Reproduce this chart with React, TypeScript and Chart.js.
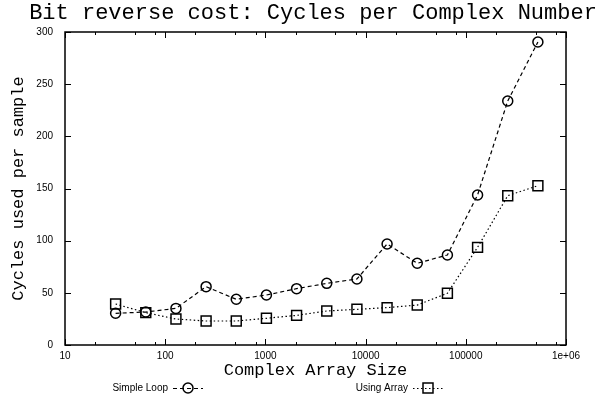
import { useEffect, useRef } from 'react';
import { Chart, registerables } from 'chart.js';

Chart.register(...registerables);

const arraySizes = [32, 64, 128, 256, 512, 1024, 2048, 4096, 8192, 16384, 32768, 65536, 131072, 262144, 524288];
const simpleLoop = [30.4, 31.6, 35.1, 55.9, 43.8, 47.9, 54.0, 59.1, 63.3, 96.8, 78.3, 86.3, 143.8, 233.9, 290.4];
const usingArray = [39.3, 31.0, 24.9, 23.0, 23.0, 25.6, 28.4, 32.6, 34.2, 35.8, 38.3, 49.6, 93.6, 143.1, 152.7];
const seriesNames = ['Simple Loop', 'Using Array'];
const xMajorTicks = [10, 100, 1000, 10000, 100000, 1000000];
const xMinorFactors = [2, 5, 8];
const yTicks = [0, 50, 100, 150, 200, 250, 300];
const titleText = 'Bit reverse cost: Cycles per Complex Number';
const xTitleText = 'Complex Array Size';
const yTitleText = 'Cycles used per sample';

const MONO = '"Liberation Mono", "DejaVu Sans Mono", monospace';
const SANS = '"Liberation Sans", Arial, sans-serif';

const dashSimple = [4, 3];
const dashArray = [1.5, 2.5];

function drawMarker(ctx: CanvasRenderingContext2D, kind: string, x: number, y: number) {
  ctx.save();
  ctx.setLineDash([]);
  ctx.lineWidth = 1.5;
  ctx.strokeStyle = '#000';
  ctx.beginPath();
  if (kind === 'circle') {
    ctx.arc(x, y, 5, 0, Math.PI * 2);
  } else {
    ctx.rect(x - 5, y - 5, 10, 10);
  }
  ctx.stroke();
  ctx.restore();
}

const framePlugin = {
  id: 'gnuframe',
  afterDatasetsDraw(chart: any) {
    const { ctx, chartArea } = chart;
    const { left, right, top, bottom } = chartArea;
    const xs = chart.scales.x;
    const ys = chart.scales.y;
    ctx.save();
    ctx.strokeStyle = '#000';
    ctx.setLineDash([]);
    ctx.lineWidth = 1;
    const major = 6;
    const minor = 3;
    ctx.beginPath();
    // x ticks
    for (let i = 0; i < xMajorTicks.length; i++) {
      const v = xMajorTicks[i];
      const px = Math.round(xs.getPixelForValue(v)) + 0.5;
      ctx.moveTo(px, bottom); ctx.lineTo(px, bottom - major);
      ctx.moveTo(px, top); ctx.lineTo(px, top + major);
      if (i < xMajorTicks.length - 1) {
        for (const f of xMinorFactors) {
          const mx = Math.round(xs.getPixelForValue(v * f)) + 0.5;
          ctx.moveTo(mx, bottom); ctx.lineTo(mx, bottom - minor);
          ctx.moveTo(mx, top); ctx.lineTo(mx, top + minor);
        }
      }
    }
    for (const v of yTicks) {
      const py = Math.round(ys.getPixelForValue(v)) + 0.5;
      ctx.moveTo(left, py); ctx.lineTo(left + major, py);
      ctx.moveTo(right, py); ctx.lineTo(right - major, py);
    }
    ctx.stroke();
    ctx.lineWidth = 1.5;
    ctx.strokeRect(left, top, right - left, bottom - top);
    ctx.restore();
  },
  afterDraw(chart: any) {
    const { ctx } = chart;
    ctx.save();
    ctx.fillStyle = '#000';
    ctx.font = `22px ${MONO}`;
    ctx.textAlign = 'center';
    ctx.textBaseline = 'alphabetic';
    ctx.fillText(titleText, 313, 19);

    // legend
    ctx.font = `10px ${SANS}`;
    ctx.textAlign = 'right';
    ctx.textBaseline = 'middle';
    const ly = 388;
    const entries = [
      { name: seriesNames[0], textX: 168, kind: 'circle', dash: dashSimple },
      { name: seriesNames[1], textX: 408, kind: 'rect', dash: dashArray },
    ];
    for (const e of entries) {
      ctx.fillText(e.name, e.textX, ly);
      const x0 = e.textX + 5;
      const x1 = x0 + 30;
      ctx.save();
      ctx.strokeStyle = '#000';
      ctx.lineWidth = 1.2;
      ctx.setLineDash(e.dash);
      ctx.beginPath();
      ctx.moveTo(x0, ly + 0.5);
      ctx.lineTo(x1, ly + 0.5);
      ctx.stroke();
      ctx.restore();
      drawMarker(ctx, e.kind, (x0 + x1) / 2, ly);
    }
    ctx.restore();
  },
};

export default function App() {
  const ref = useRef<HTMLCanvasElement>(null);
  useEffect(() => {
    if (!ref.current) return;
    const chart = new Chart(ref.current, {
      type: 'line',
      data: {
        datasets: [
          {
            label: seriesNames[0],
            data: arraySizes.map((x, i) => ({ x, y: simpleLoop[i] })),
            borderColor: '#000',
            borderWidth: 1.2,
            borderDash: dashSimple,
            pointStyle: 'circle',
            pointRadius: 5,
            pointBorderWidth: 1.5,
            pointBorderColor: '#000',
            pointBackgroundColor: 'rgba(0,0,0,0)',
            fill: false,
            tension: 0,
          },
          {
            label: seriesNames[1],
            data: arraySizes.map((x, i) => ({ x, y: usingArray[i] })),
            borderColor: '#000',
            borderWidth: 1.2,
            borderDash: dashArray,
            pointStyle: 'rect',
            pointRadius: 7,
            pointBorderWidth: 1.5,
            pointBorderColor: '#000',
            pointBackgroundColor: 'rgba(0,0,0,0)',
            fill: false,
            tension: 0,
          },
        ],
      },
      options: {
        responsive: false,
        animation: false,
        layout: { padding: { top: 32, left: 0, right: 37, bottom: 0 } },
        plugins: {
          legend: { display: false },
          title: { display: false },
          tooltip: { enabled: false },
        },
        scales: {
          x: {
            type: 'logarithmic',
            min: 10,
            max: 1000000,
            afterBuildTicks: (scale: any) => {
              scale.ticks = xMajorTicks.map((v) => ({ value: v, major: true }));
            },
            afterFit: (scale: any) => {
              scale.height = 61;
            },
            ticks: {
              autoSkip: false,
              maxRotation: 0,
              color: '#000',
              padding: 5,
              font: { family: SANS, size: 10 },
              callback: (v: any) => (Number(v) === 1000000 ? '1e+06' : String(v)),
            },
            grid: { display: false, drawTicks: false },
            border: { display: false },
            title: {
              display: true,
              text: xTitleText,
              color: '#000',
              font: { family: MONO, size: 17 },
              padding: { top: 0, bottom: 25 },
            },
          },
          y: {
            type: 'linear',
            min: 0,
            max: 300,
            afterBuildTicks: (scale: any) => {
              scale.ticks = yTicks.map((v) => ({ value: v }));
            },
            afterFit: (scale: any) => {
              scale.width = 65;
            },
            ticks: {
              color: '#000',
              padding: 12,
              font: { family: SANS, size: 10 },
            },
            grid: { display: false, drawTicks: false },
            border: { display: false },
            title: {
              display: true,
              text: yTitleText,
              color: '#000',
              font: { family: MONO, size: 17 },
              padding: { top: 8, bottom: 0 },
            },
          },
        },
      },
      plugins: [framePlugin],
    } as any);
    return () => chart.destroy();
  }, []);
  return (
    <div style={{ position: 'absolute', left: 0, top: 0, width: 603, height: 406, background: '#fff' }}>
      <canvas ref={ref} width={603} height={406} style={{ display: 'block' }} />
    </div>
  );
}
